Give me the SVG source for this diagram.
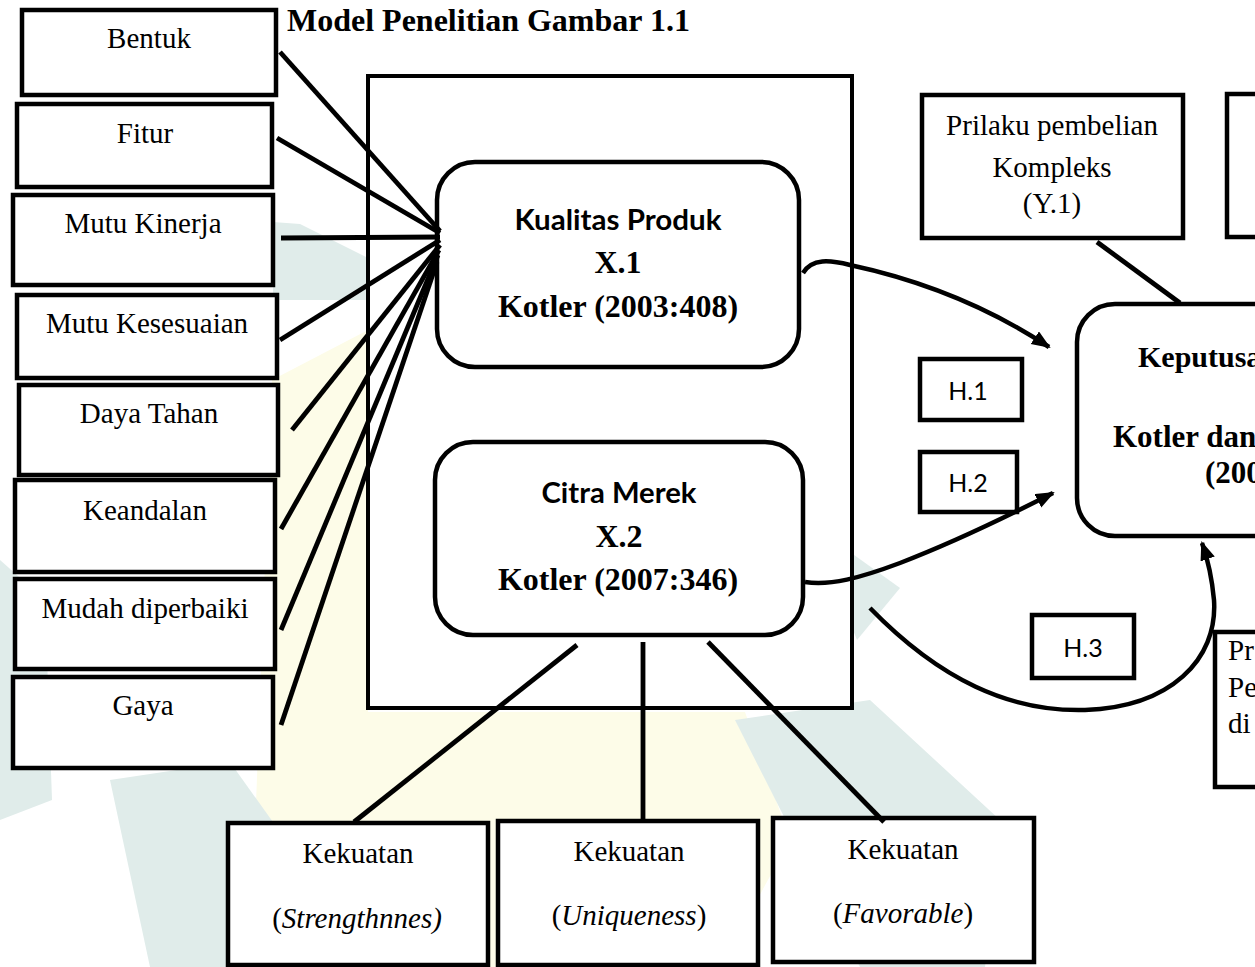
<svg xmlns="http://www.w3.org/2000/svg" width="1255" height="967" viewBox="0 0 1255 967">
<defs>
<style>
.box{fill:#fff;stroke:#000;stroke-width:4.5}
.rbox{fill:#fff;stroke:#000;stroke-width:4.5}
.ln{fill:none;stroke:#000;stroke-width:4.8;stroke-linecap:butt}
.arr{fill:none;stroke:#000;stroke-width:4.5}
.tr{font-family:"Liberation Serif","Times New Roman",serif;font-size:29px;fill:#000}
.tb{font-family:"Liberation Serif","Times New Roman",serif;font-weight:bold;font-size:32px;fill:#000}
.ts{font-family:Lato,"Open Sans",sans-serif;font-weight:bold;font-size:28px;fill:#000}
.th{font-family:Lato,"Open Sans",sans-serif;font-size:25px;fill:#000}
.wt{fill:#e0ecea}
.wy{fill:#fdfce8}
</style>
<marker id="ah" markerUnits="userSpaceOnUse" markerWidth="20" markerHeight="16" refX="17" refY="7.5" orient="auto">
<path d="M0,0 L19,7.5 L0,15 z" fill="#000"/>
</marker>
</defs>
<rect width="1255" height="967" fill="#fff"/>
<g id="watermark">
<polygon class="wy" points="272,380 368,330 368,712 745,712 790,840 720,967 330,967 255,830"/>
<polygon class="wt" points="273,222 300,224 368,258 368,300 273,300"/>
<polygon class="wt" points="0,560 45,600 52,800 0,820"/>
<polygon class="wt" points="110,780 230,762 300,860 262,967 150,967"/>
<polygon class="wt" points="843,547 900,588 857,640 845,610"/>
<polygon class="wt" points="735,720 870,700 1000,820 985,967 860,967"/>
</g>
<text class="tb" x="287" y="31">Model Penelitian Gambar 1.1</text>
<g id="container">
<rect x="368" y="76" width="484" height="632" fill="#fff" stroke="#000" stroke-width="4"/>
</g>
<g id="n-bentuk"><rect class="box" x="22" y="10" width="254" height="85"/><text class="tr" x="149" y="48" text-anchor="middle">Bentuk</text></g>
<g id="n-fitur"><rect class="box" x="17" y="104" width="255" height="83"/><text class="tr" x="145" y="143" text-anchor="middle">Fitur</text></g>
<g id="n-mutu-kinerja"><rect class="box" x="13" y="195" width="260" height="90"/><text class="tr" x="143" y="233" text-anchor="middle">Mutu Kinerja</text></g>
<g id="n-mutu-kesesuaian"><rect class="box" x="17" y="295" width="260" height="83"/><text class="tr" x="147" y="333" text-anchor="middle">Mutu Kesesuaian</text></g>
<g id="n-daya-tahan"><rect class="box" x="19" y="385" width="259" height="90"/><text class="tr" x="149" y="423" text-anchor="middle">Daya Tahan</text></g>
<g id="n-keandalan"><rect class="box" x="15" y="480" width="260" height="92"/><text class="tr" x="145" y="520" text-anchor="middle">Keandalan</text></g>
<g id="n-mudah"><rect class="box" x="15" y="579" width="260" height="90"/><text class="tr" x="145" y="618" text-anchor="middle">Mudah diperbaiki</text></g>
<g id="n-gaya"><rect class="box" x="13" y="677" width="260" height="91"/><text class="tr" x="143" y="715" text-anchor="middle">Gaya</text></g>
<g id="n-kualitas">
<rect class="rbox" x="437" y="162" width="362" height="205" rx="38" ry="38"/>
<text class="ts" x="618" y="230" text-anchor="middle" textLength="207" lengthAdjust="spacingAndGlyphs">Kualitas Produk</text>
<text class="tb" x="618" y="273" text-anchor="middle">X.1</text>
<text class="tb" x="618" y="317" text-anchor="middle">Kotler (2003:408)</text>
</g>
<g id="n-citra">
<rect class="rbox" x="435" y="442" width="368" height="193" rx="38" ry="38"/>
<text class="ts" x="619" y="503" text-anchor="middle" textLength="155" lengthAdjust="spacingAndGlyphs">Citra Merek</text>
<text class="tb" x="619" y="547" text-anchor="middle">X.2</text>
<text class="tb" x="618" y="590" text-anchor="middle">Kotler (2007:346)</text>
</g>
<g id="n-prilaku">
<rect class="box" x="922" y="95" width="261" height="143"/>
<text class="tr" x="1052" y="135" text-anchor="middle">Prilaku pembelian</text>
<text class="tr" x="1052" y="177" text-anchor="middle">Kompleks</text>
<text class="tr" x="1052" y="213" text-anchor="middle">(Y.1)</text>
</g>
<g id="n-topright"><rect class="box" x="1227" y="94" width="60" height="143"/></g>
<g id="n-keputusan">
<rect class="rbox" x="1077" y="304" width="240" height="232" rx="38" ry="38"/>
<text class="tb" x="1138" y="367" style="font-size:30px">Keputusa</text>
<text class="tb" x="1113" y="447" style="font-size:31px">Kotler dan</text>
<text class="tb" x="1205" y="483" style="font-size:31px">(200</text>
</g>
<g id="n-bottomright">
<rect class="box" x="1215" y="632" width="60" height="155"/>
<text class="tr" x="1228" y="660">Pr</text>
<text class="tr" x="1228" y="697">Pe</text>
<text class="tr" x="1228" y="733">di</text>
</g>
<g id="n-h1"><rect class="box" x="920" y="359" width="102" height="61"/><text class="th" x="968" y="400" text-anchor="middle">H.1</text></g>
<g id="n-h2"><rect class="box" x="920" y="452" width="97" height="60"/><text class="th" x="968" y="492" text-anchor="middle">H.2</text></g>
<g id="n-h3"><rect class="box" x="1032" y="615" width="102" height="63"/><text class="th" x="1083" y="657" text-anchor="middle">H.3</text></g>
<g id="n-kek1">
<rect class="box" x="228" y="823" width="260" height="142"/>
<text class="tr" x="358" y="863" text-anchor="middle">Kekuatan</text>
<text class="tr" x="357" y="928" text-anchor="middle">(<tspan font-style="italic">Strengthnnes)</tspan></text>
</g>
<g id="n-kek2">
<rect class="box" x="498" y="821" width="260" height="144"/>
<text class="tr" x="629" y="861" text-anchor="middle">Kekuatan</text>
<text class="tr" x="629" y="925" text-anchor="middle">(<tspan font-style="italic">Uniqueness</tspan>)</text>
</g>
<g id="n-kek3">
<rect class="box" x="773" y="818" width="261" height="144"/>
<text class="tr" x="903" y="859" text-anchor="middle">Kekuatan</text>
<text class="tr" x="903" y="923" text-anchor="middle">(<tspan font-style="italic">Favorable</tspan>)</text>
</g>
<g id="connectors">
<line class="ln" x1="280" y1="52" x2="440" y2="231"/>
<line class="ln" x1="277" y1="138" x2="440" y2="233"/>
<line class="ln" x1="281" y1="238" x2="440" y2="237"/>
<line class="ln" x1="280" y1="340" x2="440" y2="240"/>
<line class="ln" x1="292" y1="430" x2="440" y2="245"/>
<line class="ln" x1="281" y1="529" x2="439" y2="250"/>
<line class="ln" x1="281" y1="630" x2="438" y2="255"/>
<line class="ln" x1="281" y1="725" x2="437" y2="262"/>
<line class="ln" x1="577" y1="645" x2="354" y2="822"/>
<line class="ln" x1="643" y1="642" x2="643" y2="820"/>
<line class="ln" x1="708" y1="642" x2="884" y2="822"/>
<line class="ln" x1="1097" y1="242" x2="1180" y2="303"/>
<path class="arr" d="M803,273 C812,258 830,260 850,265 C920,280 990,308 1049,347" marker-end="url(#ah)"/>
<path class="arr" d="M805,582 C830,586 860,578 900,563 C960,540 1010,515 1053,493" marker-end="url(#ah)"/>
<path class="arr" d="M870,608 C940,680 1010,712 1085,710 C1170,707 1218,660 1214,600 C1212,578 1208,560 1202,543" marker-end="url(#ah)"/>
</g>
</svg>
